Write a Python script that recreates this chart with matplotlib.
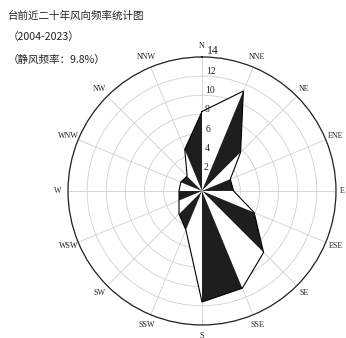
import numpy as np
import matplotlib.pyplot as plt

directions = ['N', 'NNE', 'NE', 'ENE', 'E', 'ESE', 'SE', 'SSE',
              'S', 'SSW', 'SW', 'WSW', 'W', 'WNW', 'NW', 'NNW']
freq = [8.3, 11.3, 5.7, 3.2, 3.3, 5.9, 9.1, 11.0,
        11.6, 4.4, 3.4, 2.6, 2.4, 2.4, 2.2, 4.7]
ring_values = [2, 4, 6, 8, 10, 12, 14]

title_lines = ['台前近二十年风向频率统计图', '（2004-2023）', '（静风频率：9.8%）']

plt.rcParams['font.family'] = ['Noto Sans CJK SC', 'DejaVu Sans']

fig = plt.figure(figsize=(3.46, 3.38), dpi=100)
ax = fig.add_axes([0.1965, 0.0385, 0.7746, 0.793], projection='polar')
ax.set_theta_zero_location('N')
ax.set_theta_direction(-1)

theta = np.deg2rad(np.arange(len(directions)) * 22.5)
n = len(directions)

# alternating black / white triangles between neighbouring spokes
for i in range(n):
    j = (i + 1) % n
    color = '#1e1e1e' if i % 2 == 1 else 'white'
    ax.fill([0, theta[i], theta[j]], [0, freq[i], freq[j]],
            color=color, lw=0, zorder=3)

# outline joining the tips
ax.plot(list(theta) + [theta[0]], freq + [freq[0]], color='black', lw=0.8, zorder=4)

ax.set_ylim(0, 14)
ax.set_yticks(ring_values)
ax.set_yticklabels([])
ax.set_xticks(theta)
ax.set_xticklabels([])
ax.grid(color='#d0d0d0', lw=0.6)
ax.spines['polar'].set_color('#222222')
ax.spines['polar'].set_linewidth(0.9)

for d, t in zip(directions, theta):
    rr = 14.6 if d == 'E' else 15.1
    ax.text(t, rr, d, ha='center', va='center', fontsize=5.8,
            family='Liberation Serif', color='#222222')

for r in ring_values:
    size = 8.5 if r == 14 else 7
    ax.text(np.deg2rad(2.0 if r > 6 else 3.5), r, str(r), ha='left', va='bottom',
            fontsize=size, family='Liberation Serif', color='#222222', zorder=5)

ys = [0.953, 0.892, 0.822]
for txt, y in zip(title_lines, ys):
    fig.text(0.022, y, txt, ha='left', va='center', fontsize=7.6, color='#222222')

fig.savefig('out.png', dpi=100)
